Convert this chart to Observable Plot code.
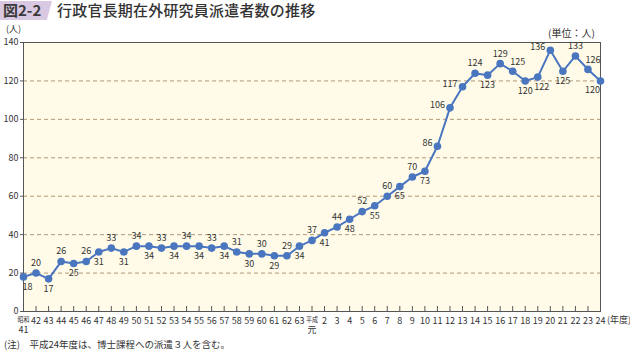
<!DOCTYPE html>
<html><head><meta charset="utf-8">
<script src="https://cdn.jsdelivr.net/npm/d3@7"></script>
<script src="https://cdn.jsdelivr.net/npm/@observablehq/plot@0.6"></script>
<style>
body{margin:0;background:#fff;font-family:"Noto Sans CJK JP","Noto Sans",sans-serif;color:#333;}
#wrap{position:relative;width:630px;height:351px;overflow:hidden;}
#title{position:absolute;left:0;top:0;height:22px;width:630px;}
#badge{position:absolute;left:0;top:1px;width:52px;height:19px;background:#d9c8e1;clip-path:polygon(0 0,100% 0,90% 100%,0 100%);}
#badge span{position:absolute;left:3px;top:-2px;font-size:15px;font-weight:bold;color:#3a3a3a;}
#ttext{position:absolute;left:57px;top:-1px;font-size:15px;font-weight:500;color:#333;letter-spacing:0.2px;}
#chart{position:absolute;left:0;top:24px;}
.ann{position:absolute;font-size:9px;color:#333;white-space:nowrap;}
#note{position:absolute;left:4px;top:337px;font-size:9.5px;color:#333;white-space:nowrap;}
</style></head>
<body><div id="wrap">
<div id="title"><div id="badge"><span>図2-2</span></div><div id="ttext">行政官長期在外研究員派遣者数の推移</div></div>
<div id="chart"></div>
<div class="ann" style="left:6px;top:22px;">(人)</div>
<div class="ann" style="left:548px;top:25px;font-size:10px;">(単位：人)</div>
<div class="ann" style="left:607px;top:313px;">(年度)</div>
<div id="note">(注)　平成24年度は、博士課程への派遣３人を含む。</div>
</div>
<script>
const yearLabels = ["昭和\n41","42","43","44","45","46","47","48","49","50","51","52","53","54","55","56","57","58","59","60","61","62","63",
"平成\n元","2","3","4","5","6","7","8","9","10","11","12","13","14","15","16","17","18","19","20","21","22","23","24"];
const values = [18,20,17,26,25,26,31,33,31,34,34,33,34,34,34,33,34,31,30,30,29,29,34,
37,41,44,48,52,55,60,65,70,73,86,106,117,124,123,129,125,120,122,136,125,133,126,120];
const labelPlace = ["br","a","b","a","b","a","b","a","b","a","b","a","b","a","b","a","b","a","b","a","b","a","b",
"a","b","a","b","a","b","a","b","a","b","l","l","l","a","b","a","ar","b","br","l","b","a","ar","bl"];
const yTicks = [0,20,40,60,80,100,120,140];
const gridValues = [20,40,60,80,100,120];

const W = 630, H = 318, mL = 23, mR = 30, mT = 18, mB = 31;
const idx = d3.range(yearLabels.length);
const data = idx.map(i => ({i, v: values[i], p: labelPlace[i]}));
const sel = p => data.filter(d => d.p === p);
const txt = {fontSize: 9, fill: "#333"};

const chart = Plot.plot({
  width: W, height: H,
  marginLeft: mL, marginRight: mR, marginTop: mT, marginBottom: mB,
  style: {fontFamily: '"Noto Sans CJK JP","Noto Sans",sans-serif', fontSize: "9px", color: "#333", background: "transparent"},
  x: {type: "linear", domain: [0, idx.length - 1], range: [mL, W - mR], inset: 0},
  y: {domain: [0,140], range: [H - mB, mT], inset: 0},
  marks: [
    Plot.frame({fill: "#fffbe8", stroke: null}),
    Plot.ruleY(gridValues, {stroke: "#b09878", strokeDasharray: "4,3", strokeWidth: 1}),
    Plot.frame({stroke: "#555", strokeWidth: 1}),
    Plot.axisY({ticks: yTicks, tickSize: 3, tickPadding: 2, label: null, stroke: "#555"}),
    Plot.axisX({ticks: idx, tickSize: -5, tickPadding: 10, label: null, tickFormat: i => yearLabels[i], stroke: "#555", lineHeight: 1.15}),
    Plot.line(data, {x: "i", y: "v", stroke: "#4a76c0", strokeWidth: 2}),
    Plot.dot(data, {x: "i", y: "v", r: 3.8, fill: "#4a76c0", stroke: "none"}),
    Plot.text(sel("a"), {x: "i", y: "v", text: d => String(d.v), dy: -10, ...txt}),
    Plot.text(sel("b"), {x: "i", y: "v", text: d => String(d.v), dy: 10, ...txt}),
    Plot.text(sel("br"), {x: "i", y: "v", text: d => String(d.v), dx: 4, dy: 10, ...txt}),
    Plot.text(sel("l"), {x: "i", y: "v", text: d => String(d.v), dx: -5, dy: -3, textAnchor: "end", ...txt}),
    Plot.text(sel("ar"), {x: "i", y: "v", text: d => String(d.v), dx: 5, dy: -9, ...txt}),
    Plot.text(sel("bl"), {x: "i", y: "v", text: d => String(d.v), dx: -8, dy: 9, ...txt})
  ]
});
chart.querySelectorAll("tspan").forEach(t => {
  if (t.textContent === "昭和" || t.textContent === "平成") {
    t.setAttribute("font-size", "7px");
    t.setAttribute("textLength", "12");
    t.setAttribute("lengthAdjust", "spacingAndGlyphs");
  }
});
document.getElementById("chart").append(chart);
</script>
</body></html>
